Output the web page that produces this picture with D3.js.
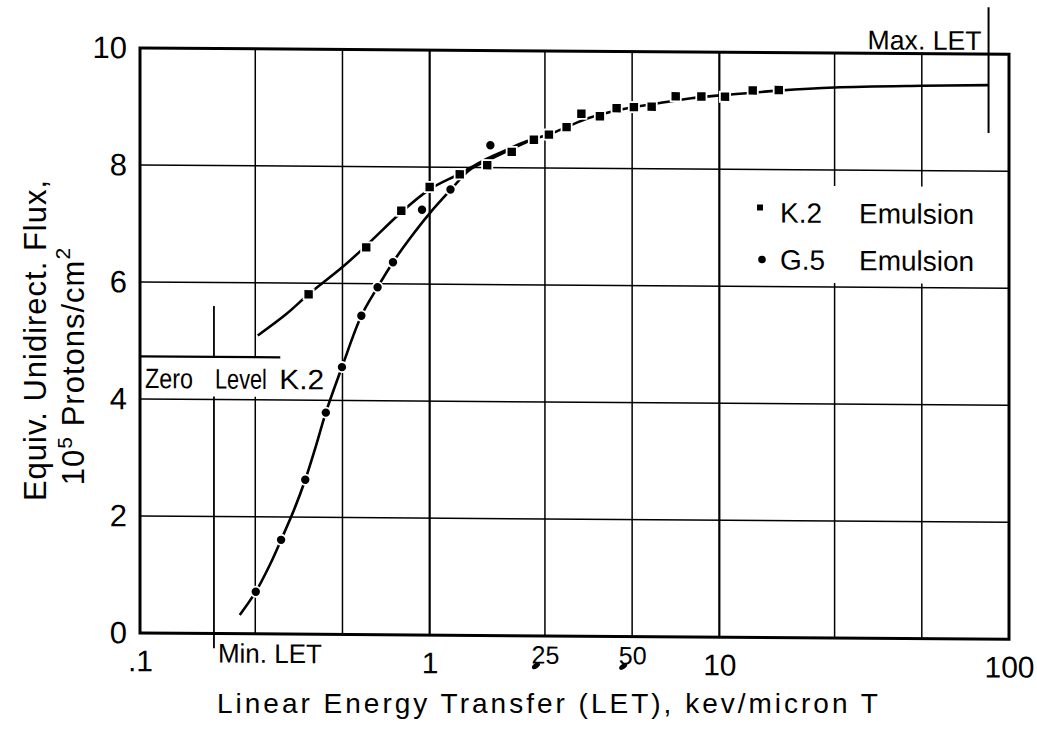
<!DOCTYPE html>
<html>
<head>
<meta charset="utf-8">
<script src="https://cdn.jsdelivr.net/npm/d3@7"></script>
<style>
body { margin: 0; background: #fff; }
svg text { font-family: "Liberation Sans", Arial, sans-serif; fill: #000; }
</style>
</head>
<body>
<svg id="chart" width="1037" height="729"></svg>
<script>
// K.2 emulsion points (LET kev/micron, flux 10^5 protons/cm2)
var k2Let  = [0.382, 0.604, 0.798, 1.0, 1.27, 1.58, 1.92, 2.29, 2.58, 2.97, 3.34, 3.87, 4.42, 5.07, 5.84, 7.07, 8.67, 10.46, 13.04, 16.04];
var k2Flux = [5.81, 6.62, 7.25, 7.66, 7.88, 8.04, 8.27, 8.48, 8.57, 8.70, 8.93, 8.89, 9.03, 9.05, 9.06, 9.24, 9.24, 9.24, 9.35, 9.36];

// G.5 emulsion points
var g5Let  = [0.251, 0.307, 0.372, 0.438, 0.498, 0.581, 0.661, 0.747, 0.941, 1.18, 1.62];
var g5Flux = [0.72, 1.61, 2.64, 3.79, 4.57, 5.45, 5.94, 6.37, 7.27, 7.62, 8.38];

// hand drawn fitted curves
var k2CurveLet  = [0.255, 0.32, 0.382, 0.5, 0.604, 0.8, 1.0, 1.27, 1.52, 1.8, 2.15, 2.6, 3.0, 3.5, 4.5, 6, 8, 10.5, 16, 25, 50, 85];
var k2CurveFlux = [5.10, 5.47, 5.81, 6.28, 6.65, 7.23, 7.62, 7.89, 8.11, 8.28, 8.45, 8.58, 8.71, 8.85, 9.0, 9.11, 9.21, 9.27, 9.35, 9.41, 9.45, 9.47];
var g5CurveLet  = [0.221, 0.251, 0.28, 0.307, 0.34, 0.372, 0.405, 0.438, 0.498, 0.581, 0.661, 0.747, 0.858, 1.0, 1.18, 1.37, 1.6, 1.9, 2.3];
var g5CurveFlux = [0.32, 0.72, 1.17, 1.61, 2.12, 2.64, 3.22, 3.79, 4.57, 5.45, 5.94, 6.37, 6.79, 7.21, 7.61, 7.95, 8.13, 8.31, 8.50];

var xGrid = [0.25, 0.5, 1, 2.5, 5, 10, 25, 50];
var yGrid = [2, 4, 6, 8];
var xTicks = [0.1, 1, 10, 100];
var xTickLabels = ['.1', '1', '10', '100'];
var xSubTicks = [2.5, 5];
var xSubLabels = ['25', '50'];
var yTicks = [0, 2, 4, 6, 8, 10];

var minLet = 0.18, maxLet = 85, zeroLevel = 4.73;

var svg = d3.select('#chart');
// the scan is slightly skewed: right side sits a few px lower
var g = svg.append('g').attr('transform', 'matrix(1,0.0072,0,1,0,-1.0)');

var x = d3.scaleLog().domain([0.1, 100]).range([140, 1009]);
var y = d3.scaleLinear().domain([0, 10]).range([633, 48]);

// grid
g.selectAll('.vg').data(xGrid).enter().append('line')
  .attr('x1', d => x(d)).attr('x2', d => x(d))
  .attr('y1', y(0)).attr('y2', y(10))
  .attr('stroke', '#000')
  .attr('stroke-width', d => (d == 1 || d == 10) ? 2.2 : 1.5);
g.selectAll('.hg').data(yGrid).enter().append('line')
  .attr('x1', x(0.1)).attr('x2', x(100))
  .attr('y1', d => y(d)).attr('y2', d => y(d))
  .attr('stroke', '#000').attr('stroke-width', 1.5);

// label boxes cover the grid
g.append('rect').attr('x', x(0.1) + 2).attr('y', y(zeroLevel) + 1)
  .attr('width', 195).attr('height', y(4) - y(zeroLevel) - 4).attr('fill', '#fff');
g.append('rect').attr('x', 748).attr('y', 181).attr('width', 240).attr('height', 97).attr('fill', '#fff');

// border
g.append('rect').attr('x', x(0.1)).attr('y', y(10))
  .attr('width', x(100) - x(0.1)).attr('height', y(0) - y(10))
  .attr('fill', 'none').attr('stroke', '#000').attr('stroke-width', 3);

// axes labels via d3 axes
var yAxis = g.append('g').attr('transform', `translate(${x(0.1)},0)`)
  .call(d3.axisLeft(y).tickValues(yTicks).tickFormat(d3.format('d')).tickSize(0).tickPadding(13));
yAxis.select('.domain').remove();
yAxis.selectAll('text').style('font-size', '31px').style('font-family', '"Liberation Sans", Arial, sans-serif');

var xAxis = g.append('g').attr('transform', `translate(0,${y(0)})`)
  .call(d3.axisBottom(x).tickValues(xTicks).tickFormat((d, i) => xTickLabels[i]).tickSize(0).tickPadding(17));
xAxis.select('.domain').remove();
xAxis.selectAll('text').style('font-size', '30px').style('font-family', '"Liberation Sans", Arial, sans-serif');

var xSub = g.append('g').attr('transform', `translate(0,${y(0)})`)
  .call(d3.axisBottom(x).tickValues(xSubTicks).tickFormat((d, i) => xSubLabels[i]).tickSize(0).tickPadding(10));
xSub.select('.domain').remove();
xSub.selectAll('text').style('font-size', '25px').style('font-family', '"Liberation Sans", Arial, sans-serif');
// the smudged decimal points under 25 and 50
g.selectAll('.dp').data(xSubTicks).enter().append('ellipse')
  .attr('cx', d => x(d) - 9).attr('cy', y(0) + 30).attr('rx', 4.5).attr('ry', 2.5)
  .attr('transform', d => `rotate(-35,${x(d) - 9},${y(0) + 30})`).attr('fill', '#000');

svg.append('text').attr('x', 217).attr('y', 713)
  .style('font-size', '28px').style('letter-spacing', '3px')
  .text('Linear Energy Transfer (LET), kev/micron T');

svg.append('text').attr('transform', 'translate(46,340) rotate(-90)')
  .attr('text-anchor', 'middle').style('font-size', '31px').style('letter-spacing', '1px')
  .text('Equiv. Unidirect. Flux,');
var l2 = svg.append('text').attr('transform', 'translate(84,366) rotate(-90)')
  .attr('text-anchor', 'middle').style('font-size', '31px').style('letter-spacing', '1px');
l2.append('tspan').text('10');
l2.append('tspan').attr('dy', -12).style('font-size', '21px').text('5');
l2.append('tspan').attr('dy', 12).text(' Protons/cm');
l2.append('tspan').attr('dy', -14).style('font-size', '21px').text('2');

// Min / Max LET markers and zero level
g.append('line').attr('x1', x(minLet)).attr('x2', x(minLet))
  .attr('y1', y(5.6)).attr('y2', y(-0.25)).attr('stroke', '#000').attr('stroke-width', 1.8);
g.append('rect').attr('x', x(minLet) - 3).attr('y', y(zeroLevel) + 1)
  .attr('width', 6).attr('height', y(4) - y(zeroLevel) - 4).attr('fill', '#fff');
g.append('text').attr('x', x(minLet) + 4).attr('y', y(0) + 29)
  .attr('textLength', 104).attr('lengthAdjust', 'spacingAndGlyphs')
  .style('font-size', '27px').text('Min. LET');

g.append('line').attr('x1', x(maxLet)).attr('x2', x(maxLet))
  .attr('y1', y(10.8)).attr('y2', y(8.65)).attr('stroke', '#000').attr('stroke-width', 2);
g.append('text').attr('x', x(maxLet) - 7).attr('y', 44).attr('text-anchor', 'end')
  .attr('textLength', 114).attr('lengthAdjust', 'spacingAndGlyphs')
  .style('font-size', '27px').text('Max. LET');

g.append('line').attr('x1', x(0.1)).attr('x2', x(0.305))
  .attr('y1', y(zeroLevel)).attr('y2', y(zeroLevel)).attr('stroke', '#000').attr('stroke-width', 2.2);
var zeroWords = [['Zero', 0.1, 5, 48], ['Level', minLet, 1, 52], ['K.2', 0.25, 24, 45]];
g.selectAll('.zl').data(zeroWords).enter().append('text')
  .attr('x', d => x(d[1]) + d[2]).attr('y', 388)
  .attr('textLength', d => d[3]).attr('lengthAdjust', 'spacingAndGlyphs')
  .style('font-size', '28px').text(d => d[0]);

// curves
var line = d3.line().curve(d3.curveCatmullRom.alpha(0.5)).x(d => x(d[0])).y(d => y(d[1]));
g.append('path').datum(k2CurveLet.map((d, i) => [d, k2CurveFlux[i]]))
  .attr('d', line).attr('fill', 'none').attr('stroke', '#000').attr('stroke-width', 2.6);
g.append('path').datum(g5CurveLet.map((d, i) => [d, g5CurveFlux[i]]))
  .attr('d', line).attr('fill', 'none').attr('stroke', '#000').attr('stroke-width', 2.6);

// markers with a white halo
var k2 = k2Let.map((d, i) => [d, k2Flux[i]]);
var g5 = g5Let.map((d, i) => [d, g5Flux[i]]);
g.selectAll('.k2h').data(k2).enter().append('rect')
  .attr('x', d => x(d[0]) - 6).attr('y', d => y(d[1]) - 6).attr('width', 12).attr('height', 12).attr('fill', '#fff');
g.selectAll('.g5h').data(g5).enter().append('circle')
  .attr('cx', d => x(d[0])).attr('cy', d => y(d[1])).attr('r', 6).attr('fill', '#fff');
g.selectAll('.k2').data(k2).enter().append('rect')
  .attr('x', d => x(d[0]) - 4.2).attr('y', d => y(d[1]) - 4.2).attr('width', 8.4).attr('height', 8.4).attr('fill', '#000');
g.selectAll('.g5').data(g5).enter().append('circle')
  .attr('cx', d => x(d[0])).attr('cy', d => y(d[1])).attr('r', 4.2).attr('fill', '#000');

// legend
g.append('rect').attr('x', 757).attr('y', 200).attr('width', 6).attr('height', 6).attr('fill', '#000');
g.append('circle').attr('cx', 762).attr('cy', 255).attr('r', 3.8).attr('fill', '#000');
var legendWords = [['K.2', 780, 218], ['Emulsion', 859, 218], ['G.5', 780, 265], ['Emulsion', 859, 265]];
g.selectAll('.lg').data(legendWords).enter().append('text')
  .attr('x', d => d[1]).attr('y', d => d[2])
  .style('font-size', '28px').text(d => d[0]);
</script>
</body>
</html>
